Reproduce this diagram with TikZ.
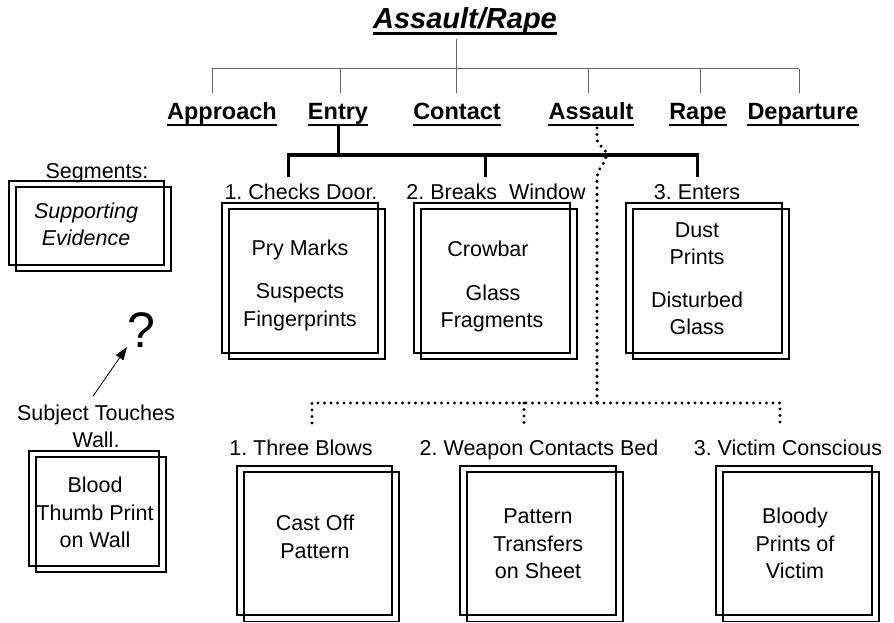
\documentclass[tikz,border=0pt]{standalone}
\usepackage{fontspec}
\setmainfont{Liberation Sans}
\usetikzlibrary{arrows.meta,calc}
\frenchspacing
\tikzset{
  ttl/.style={font=\fontsize{29}{34}\selectfont\bfseries\itshape, anchor=base, inner xsep=0pt},
  lbl/.style={font=\fontsize{23.5}{28}\selectfont\bfseries, anchor=base, inner xsep=0pt},
  txt/.style={font=\fontsize{21.5}{26}\selectfont, anchor=base, inner sep=1pt},
  itx/.style={font=\fontsize{21.5}{26}\selectfont\itshape, anchor=base, inner sep=1pt},
  qm/.style={font=\fontsize{50}{56}\selectfont, anchor=base, inner sep=1pt},
  ul/.style={line width=2pt},
  box/.style={draw, line width=1.1pt, inner sep=0pt, outer sep=0pt},
  boxline/.style={draw, line width=1.1pt},
  topline/.style={line width=1pt, black!60},
  tree/.style={line width=3pt},
  dots/.style={line width=3.4pt, dash pattern=on 0pt off 6.5pt, line cap=round},
  arr/.style={line width=0.8pt, -{Triangle[length=13pt,width=9pt]}},
}
\newcommand{\dbl}[1]{\draw[boxline] ([shift={(7,6)}]#1.north west) rectangle ([shift={(7,6)}]#1.south east);}
\begin{document}
\begin{tikzpicture}[x=1pt,y=-1pt]
\useasboundingbox[fill=white] (0,0) rectangle (894,623);

% title and categories
\node[ttl] (title) at (465,29) {Assault/Rape};
\draw[line width=2.5pt] ([yshift=-4.5pt]title.base west) -- ([yshift=-4.5pt]title.base east);

\node[lbl] (Approach) at (222,120) {Approach};
\node[lbl] (Entry) at (338,120) {Entry};
\node[lbl] (Contact) at (457,120) {Contact};
\node[lbl] (Assault) at (591,120) {Assault};
\node[lbl] (Rape) at (698,120) {Rape};
\node[lbl] (Departure) at (803,120) {Departure};
\foreach \n in {Approach,Entry,Contact,Assault,Rape,Departure}{
  \draw[ul] ([yshift=-5pt]\n.base west) -- ([yshift=-5pt]\n.base east);
}

% thin top tree
\coordinate (hA) at (212,69);
\coordinate (hE) at (340,69);
\coordinate (hC) at (456,69);
\coordinate (hS) at (588,69);
\coordinate (hR) at (700,69);
\coordinate (hD) at (799,69);
\draw[topline] (hC |- title.south) -- (hC |- 0,93);
\draw[topline] (hA) -- (hD);
\foreach \c in {hA,hE,hS,hR,hD}{
  \draw[topline] (\c) -- (\c |- 0,93);
}

% Entry tree
\coordinate (ej) at (338,155);
\coordinate (e1) at (288,177);
\coordinate (e2) at (485,177);
\coordinate (e3) at (697,177);
\draw[tree] ([yshift=-5pt]Entry.base) -- (ej);
\draw[tree] (e1) -- (e1 |- ej) -- (e3 |- ej) -- (e3);
\draw[tree] (e2 |- ej) -- (e2);

% Entry segments
\node[txt] (s1) at (301,199) {1. Checks Door.};
\node[txt] (s2) at (496,199) {2. Breaks\ \ Window};
\node[txt] (s3) at (697,199) {3. Enters};

\node[box, minimum width=156pt, minimum height=150pt] (b1) at (300,278) {};
\dbl{b1}
\node[box, minimum width=156pt, minimum height=150pt] (b2) at (492,278) {};
\dbl{b2}
\node[box, minimum width=156pt, minimum height=150pt] (b3) at (704,278) {};
\dbl{b3}

\node[txt] (b1a) at (300,255) {Pry Marks};
\node[txt] (b1b) at (300,298) {Suspects};
\node[txt] (b1c) at (300,326) {Fingerprints};
\node[txt] (b2a) at (488,256) {Crowbar};
\node[txt] (b2b) at (493,300) {Glass};
\node[txt] (b2c) at (492,327) {Fragments};
\node[txt] (b3a) at (697,237) {Dust};
\node[txt] (b3b) at (697,264) {Prints};
\node[txt] (b3c) at (697,307) {Disturbed};
\node[txt] (b3d) at (697,334) {Glass};

% legend
\node[txt] (seg) at (97,178) {Segments:};
\node[box, minimum width=155pt, minimum height=84pt] (se) at (86.5,223) {};
\dbl{se}
\node[itx] (se1) at (86,218) {Supporting};
\node[itx] (se2) at (86,245) {Evidence};

% question / subject
\node[qm] (q) at (141,347) {?};
\node[txt] (subj) at (96,420) {Subject Touches};
\node[txt] (wall) at (96,447) {Wall.};
\draw[arr] ($(subj.north)+(-3,-7)$) -- ($(q.base)+(-14,0)$);

\node[box, minimum width=130pt, minimum height=115pt] (bt) at (94,508.5) {};
\dbl{bt}
\node[txt] (bt1) at (95,492) {Blood};
\node[txt] (bt2) at (95,520) {Thumb Print};
\node[txt] (bt3) at (95,547) {on Wall};

% Assault tree (dotted)
\coordinate (aj) at (597,403);
\coordinate (d1) at (312,423);
\coordinate (d2) at (524,423);
\coordinate (d3) at (780,423);
\draw[dots] ([xshift=6pt,yshift=-8pt]Assault.base) -- (597,138)
  .. controls (597,148) and (608,147) .. (606,157)
  .. controls (604,166) and (597,168) .. (597,180) -- (aj);
\draw[dots] (d1) -- (d1 |- aj) -- (d3 |- aj) -- (d3);
\draw[dots] (d2 |- aj) -- (d2);

\node[txt] (t1) at (301,455) {1. Three Blows};
\node[txt] (t2) at (539,455) {2. Weapon Contacts Bed};
\node[txt] (t3) at (788,455) {3. Victim Conscious};

\node[box, minimum width=155pt, minimum height=149pt] (c1) at (314.5,540.5) {};
\draw[boxline] ([shift={(7,6)}]c1.north west) rectangle ([shift={(7,0)}]c1.south east |- 0,621.5);
\node[box, minimum width=156pt, minimum height=149pt] (c2) at (538,540.5) {};
\draw[boxline] ([shift={(7,6)}]c2.north west) rectangle ([shift={(7,0)}]c2.south east |- 0,621.5);
\node[box, minimum width=156pt, minimum height=149pt] (c3) at (794,540.5) {};
\draw[boxline] ([shift={(7,6)}]c3.north west) rectangle ([shift={(7,0)}]c3.south east |- 0,621.5);

\node[txt] (c1a) at (315,530) {Cast Off};
\node[txt] (c1b) at (315,558) {Pattern};
\node[txt] (c2a) at (538,523) {Pattern};
\node[txt] (c2b) at (538,551) {Transfers};
\node[txt] (c2c) at (538,578) {on Sheet};
\node[txt] (c3a) at (795,523) {Bloody};
\node[txt] (c3b) at (795,551) {Prints of};
\node[txt] (c3c) at (795,578) {Victim};
\end{tikzpicture}
\end{document}
